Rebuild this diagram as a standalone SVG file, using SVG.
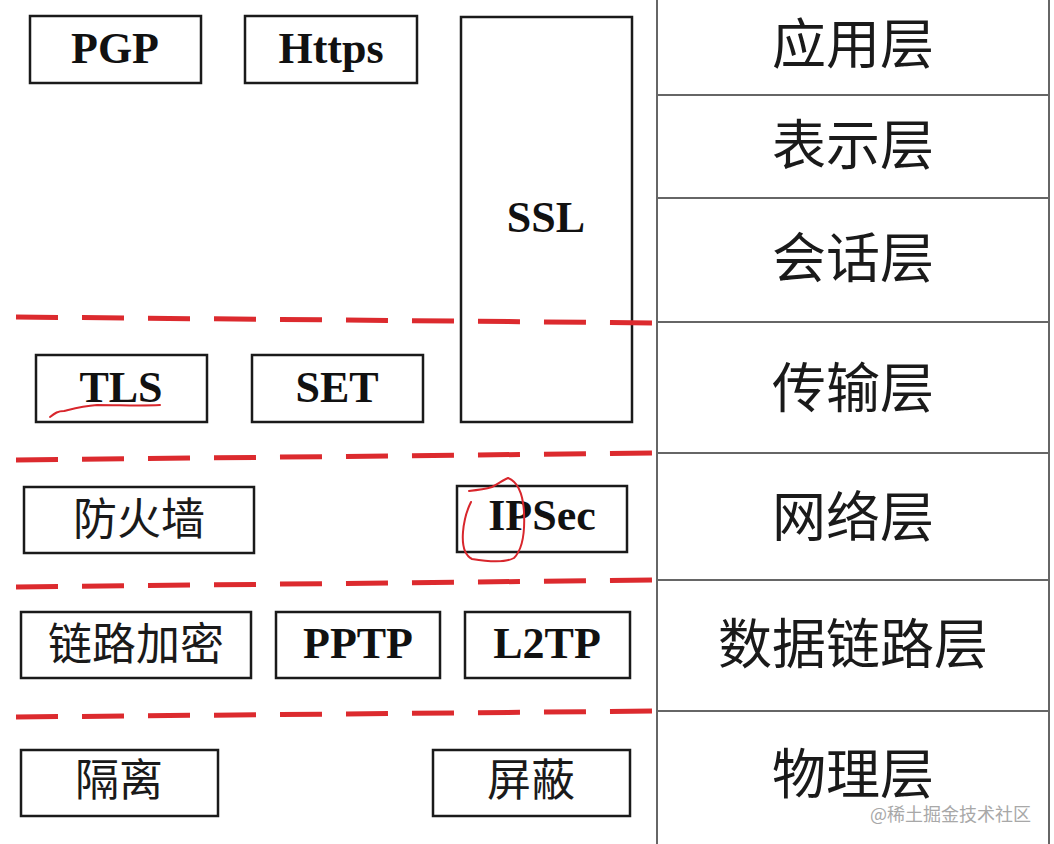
<svg xmlns="http://www.w3.org/2000/svg" width="1054" height="844" viewBox="0 0 1054 844">
  <style>
    .box { fill: #ffffff; stroke: #1a1a1a; stroke-width: 2.5; }
    .lat { font-family: "Liberation Serif", "Times New Roman", serif; font-weight: bold; font-size: 44px; fill: #111; text-anchor: middle; }
    .cjk { font-family: "Noto Sans CJK SC", "Noto Sans CJK JP", sans-serif; font-size: 44px; fill: #1a1a1a; text-anchor: middle; }
    .layer { font-family: "Noto Sans CJK SC", "Noto Sans CJK JP", sans-serif; font-size: 54px; fill: #1a1a1a; text-anchor: middle; }
    .grid { stroke: #666; stroke-width: 2; fill: none; }
    .dash { stroke: #dc2a2e; stroke-width: 5; fill: none; stroke-dasharray: 42 24; }
    .ink { stroke: #d8262c; stroke-width: 2; fill: none; stroke-linecap: round; stroke-linejoin: round; }
    .wm { font-family: "Noto Sans CJK SC", sans-serif; font-size: 18px; fill: #a8a8a8; text-anchor: end; }
  </style>
  <rect x="0" y="0" width="1054" height="844" fill="#ffffff"/>

  <g id="layers">
    <line class="grid" x1="657" y1="0" x2="657" y2="844"/>
    <line class="grid" x1="1049" y1="0" x2="1049" y2="844"/>
    <line class="grid" x1="657" y1="95" x2="1049" y2="95"/>
    <line class="grid" x1="657" y1="198" x2="1049" y2="198"/>
    <line class="grid" x1="657" y1="322" x2="1049" y2="322"/>
    <line class="grid" x1="657" y1="453" x2="1049" y2="453"/>
    <line class="grid" x1="657" y1="580" x2="1049" y2="580"/>
    <line class="grid" x1="657" y1="711" x2="1049" y2="711"/>
    <text class="layer" x="853" y="64">应用层</text>
    <text class="layer" x="853" y="165">表示层</text>
    <text class="layer" x="853" y="278">会话层</text>
    <text class="layer" x="853" y="408">传输层</text>
    <text class="layer" x="853" y="537">网络层</text>
    <text class="layer" x="853" y="664">数据链路层</text>
    <text class="layer" x="853" y="794">物理层</text>
  </g>

  <g id="node-pgp"><rect class="box" x="30" y="16" width="171" height="67"/><text class="lat" x="115" y="63">PGP</text></g>
  <g id="node-https"><rect class="box" x="245" y="16" width="172" height="67"/><text class="lat" x="331" y="63">Https</text></g>
  <g id="node-ssl"><rect class="box" x="461" y="17" width="171" height="405"/><text class="lat" x="546" y="232">SSL</text></g>
  <g id="node-tls"><rect class="box" x="36" y="355" width="171" height="67"/><text class="lat" x="121" y="402">TLS</text></g>
  <g id="node-set"><rect class="box" x="252" y="355" width="171" height="67"/><text class="lat" x="337" y="402">SET</text></g>
  <g id="node-firewall"><rect class="box" x="24" y="487" width="230" height="66"/><text class="cjk" x="139" y="535">防火墙</text></g>
  <g id="node-ipsec"><rect class="box" x="457" y="486" width="170" height="66"/><text class="lat" x="542" y="530">IPSec</text></g>
  <g id="node-linkenc"><rect class="box" x="21" y="612" width="230" height="66"/><text class="cjk" x="136" y="660">链路加密</text></g>
  <g id="node-pptp"><rect class="box" x="276" y="612" width="164" height="66"/><text class="lat" x="358" y="658">PPTP</text></g>
  <g id="node-l2tp"><rect class="box" x="465" y="612" width="165" height="66"/><text class="lat" x="547" y="658">L2TP</text></g>
  <g id="node-isolation"><rect class="box" x="21" y="750" width="197" height="66"/><text class="cjk" x="119" y="796">隔离</text></g>
  <g id="node-shield"><rect class="box" x="433" y="750" width="197" height="66"/><text class="cjk" x="531" y="796">屏蔽</text></g>

  <g id="connectors">
    <path class="dash" d="M16 317 L657 323"/>
    <path class="dash" d="M16 460 L657 453"/>
    <path class="dash" d="M16 587 L657 580"/>
    <path class="dash" d="M16 717 L657 711"/>
  </g>

  <g id="annotations">
    <path class="ink" d="M50 417 C55 413 58 411 64 411 C72 409 82 406 97 405 C120 405 140 406 160 405"/>
    <path class="ink" d="M469 491 C478 490 485 489 492 487 C498 484 503 480 508 478 C518 482 523 495 524 512 C525 532 522 550 514 558 C505 563 490 562 472 559 C464 555 462 545 463 532 C464 520 467 510 471 502"/>
  </g>

  <text class="wm" x="1031" y="821">@稀土掘金技术社区</text>
</svg>
